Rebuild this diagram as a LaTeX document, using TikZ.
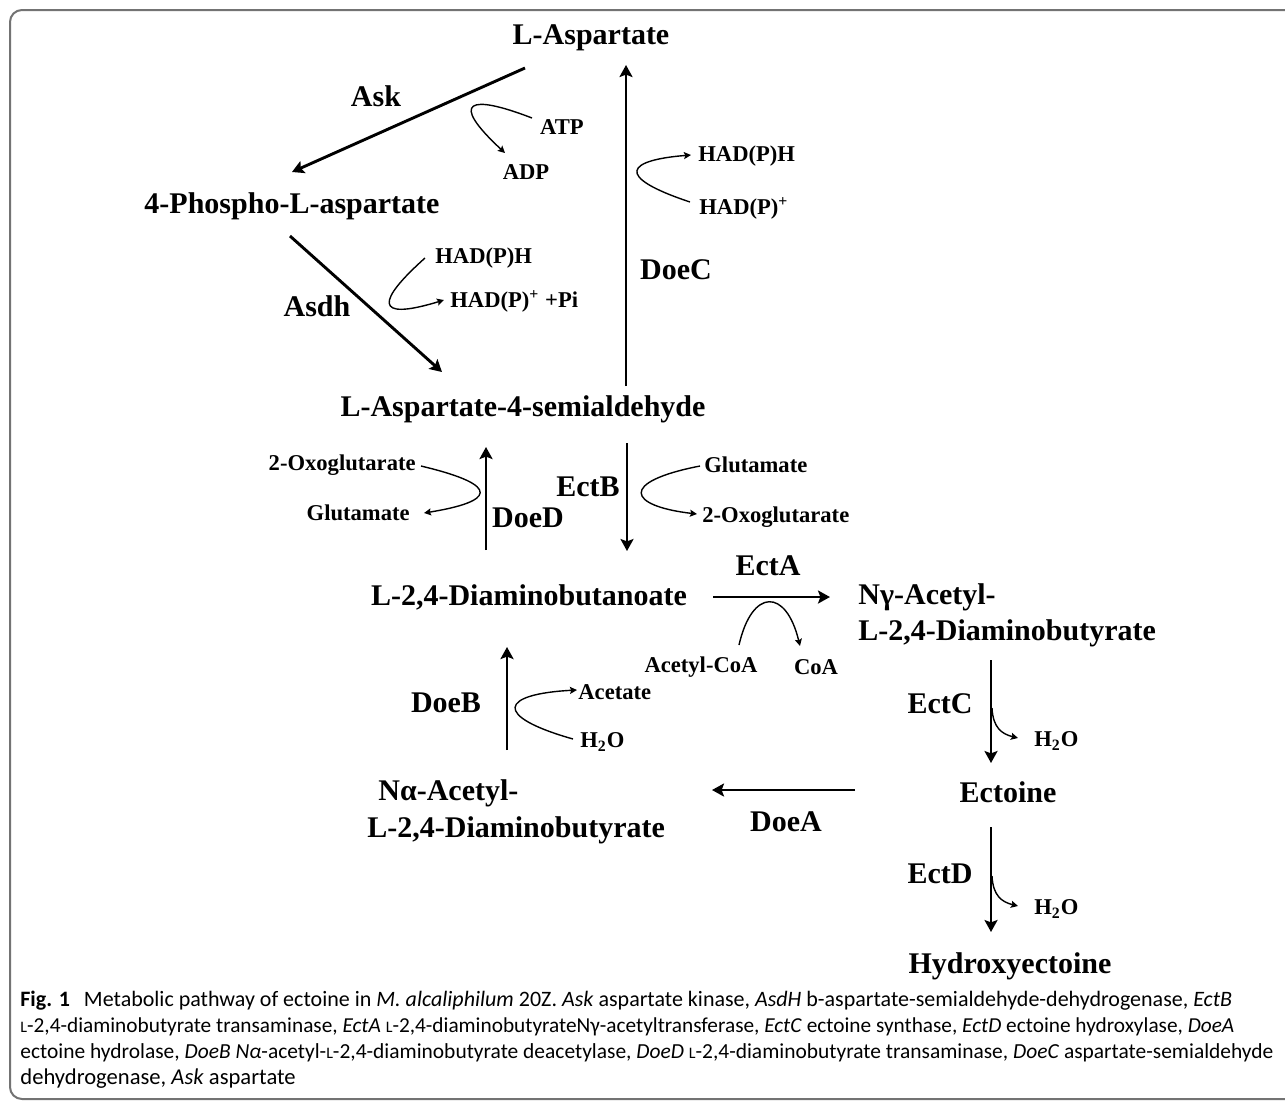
\documentclass[tikz,border=0pt]{standalone}
\usepackage{fontspec}
\setmainfont{Liberation Serif}
\newfontfamily\capfont{Carlito}
\usetikzlibrary{arrows.meta}
\newcommand{\lsc}{{\fontsize{8}{8}\selectfont L}}
\begin{document}
\begin{tikzpicture}[x=0.5pt,y=-0.5pt,
 met/.style={font=\fontsize{15}{17}\selectfont\bfseries, inner sep=0},
 enz/.style={font=\fontsize{15}{17}\selectfont\bfseries, inner sep=0},
 cof/.style={font=\fontsize{11.3}{13}\selectfont\bfseries, inner sep=0},
 mainarr/.style={line width=1.45pt, -{Stealth[length=6pt,width=6.5pt,inset=1.2pt]}},
 side/.style={line width=0.7pt, -{Stealth[length=3.5pt,width=3.5pt,inset=0.6pt]}},
 captext/.style={font=\capfont\fontsize{11}{13}\selectfont, anchor=base west, inner sep=0}
]
\useasboundingbox (0,0) rectangle (1285,1100);
\begin{scope}
\clip (0,0) rectangle (1285,1100);
\draw[line width=1pt, draw=black!55, rounded corners=6pt] (10,10) rectangle (1320,1099);
\end{scope}

% metabolites
\node[met] (asp) at (591,38) {L-Aspartate};
\node[met] (pasp) at (292,206) {4-Phospho-L-aspartate};
\node[met] (asa) at (523,409) {L-Aspartate-4-semialdehyde};
\node[met] (dab) at (529,597) {L-2,4-Diaminobutanoate};
\node[met, anchor=west] (nga1) at (858,597) {Nγ-Acetyl-};
\node[met, anchor=west] (nga2) at (858,633) {L-2,4-Diaminobutyrate};
\node[met] (ect) at (1008,792) {Ectoine};
\node[met] (hect) at (1010,966) {Hydroxyectoine};
\node[met, anchor=west] (naa1) at (378,793) {Nα-Acetyl-};
\node[met, anchor=west] (naa2) at (367,830) {L-2,4-Diaminobutyrate};

% enzymes
\node[enz] (ask) at (376,96) {Ask};
\node[enz] (asdh) at (317,306) {Asdh};
\node[enz] (doec) at (676,270) {DoeC};
\node[enz] (doed) at (528,518) {DoeD};
\node[enz] (ectb) at (588,487) {EctB};
\node[enz] (ecta) at (768,566) {EctA};
\node[enz] (ectc) at (940,704) {EctC};
\node[enz] (ectd) at (940,874) {EctD};
\node[enz] (doea) at (786,822) {DoeA};
\node[enz] (doeb) at (446,703) {DoeB};

% cofactors
\node[cof] (atp) at (562,127) {ATP};
\node[cof] (adp) at (526,172) {ADP};
\node[cof, anchor=west] (nadhA) at (698,156) {HAD(P)H};
\node[cof, anchor=west] (nadpA) at (699,208) {HAD(P)\textsuperscript{+}};
\node[cof, anchor=west] (nadhB) at (435,258) {HAD(P)H};
\node[cof, anchor=west] (nadpB) at (450,301) {HAD(P)\textsuperscript{+} +Pi};
\node[cof, anchor=east] (oxoA) at (416,465) {2-Oxoglutarate};
\node[cof, anchor=east] (gluA) at (410,513) {Glutamate};
\node[cof, anchor=west] (gluB) at (704,465) {Glutamate};
\node[cof, anchor=west] (oxoB) at (702,517) {2-Oxoglutarate};
\node[cof] (accoa) at (701,667) {Acetyl-CoA};
\node[cof] (coa) at (816,667) {CoA};
\node[cof, anchor=west] (acet) at (578,692) {Acetate};
\node[cof, anchor=west] (h2oA) at (580,742) {H\textsubscript{2}O};
\node[cof, anchor=west] (h2oB) at (1034,741) {H\textsubscript{2}O};
\node[cof, anchor=west] (h2oC) at (1034,909) {H\textsubscript{2}O};

% main arrow end points
\coordinate (askS) at (525,68);   \coordinate (askE) at (292,172);
\coordinate (asdhS) at (290,236); \coordinate (asdhE) at (442,372);
\coordinate (doecS) at (626,386); \coordinate (doecE) at (626,65);
\coordinate (doedS) at (486,550); \coordinate (doedE) at (486,447);
\coordinate (ectbS) at (627,443); \coordinate (ectbE) at (627,551);
\coordinate (ectaS) at (713,597); \coordinate (ectaE) at (830,597);
\coordinate (ectcS) at (991,660); \coordinate (ectcE) at (991,763);
\coordinate (ectdS) at (991,827); \coordinate (ectdE) at (991,932);
\coordinate (doeaS) at (855,790); \coordinate (doeaE) at (712,790);
\coordinate (doebS) at (507,750); \coordinate (doebE) at (507,647);

\draw[mainarr] (askS) -- (askE);
\draw[mainarr] (asdhS) -- (asdhE);
\draw[mainarr] (doecS) -- (doecE);
\draw[mainarr] (doedS) -- (doedE);
\draw[mainarr] (ectbS) -- (ectbE);
\draw[mainarr] (ectaS) -- (ectaE);
\draw[mainarr] (ectcS) -- (ectcE);
\draw[mainarr] (ectdS) -- (ectdE);
\draw[mainarr] (doeaS) -- (doeaE);
\draw[mainarr] (doebS) -- (doebE);

% side curves
\coordinate (c1s) at (532,118); \coordinate (c1e) at (505,153);
\draw[side] (c1s) .. controls (470,94) and (448,100) .. (c1e);
\coordinate (c2s) at (690,202); \coordinate (c2e) at (691,155);
\draw[side] (c2s) .. controls (612,176) and (628,160) .. (c2e);
\coordinate (c3s) at (425,258); \coordinate (c3e) at (444,300);
\draw[side] (c3s) .. controls (378,300) and (372,322) .. (c3e);
\coordinate (c4s) at (421,466); \coordinate (c4e) at (424,513);
\draw[side] (c4s) .. controls (505,486) and (492,502) .. (c4e);
\coordinate (c5s) at (700,466); \coordinate (c5e) at (697,514);
\draw[side] (c5s) .. controls (618,482) and (628,506) .. (c5e);
\coordinate (c6s) at (739,645); \coordinate (c6e) at (800,646);
\draw[side] (c6s) .. controls (752,588) and (786,588) .. (c6e);
\coordinate (c7s) at (573,739); \coordinate (c7e) at (577,690);
\draw[side] (c7s) .. controls (492,716) and (500,694) .. (c7e);
\coordinate (c8s) at (992,708); \coordinate (c8e) at (1018,738);
\draw[side] (c8s) .. controls (993,728) and (1002,734) .. (c8e);
\coordinate (c9s) at (992,876); \coordinate (c9e) at (1018,906);
\draw[side] (c9s) .. controls (993,896) and (1002,902) .. (c9e);

% caption
\node[captext] (cap1) at (20,1006) {{\bfseries Fig. 1}\hspace{7pt}Metabolic pathway of ectoine in \textit{M. alcaliphilum} 20Z. \textit{Ask} aspartate kinase, \textit{AsdH} b-aspartate-semialdehyde-dehydrogenase, \textit{EctB}};
\node[captext, font=\capfont\fontsize{10.65}{13}\selectfont] (cap2) at (20,1032) {\lsc-2,4-diaminobutyrate transaminase, \textit{EctA} \lsc-2,4-diaminobutyrateNγ-acetyltransferase, \textit{EctC} ectoine synthase, \textit{EctD} ectoine hydroxylase, \textit{DoeA}};
\node[captext, font=\capfont\fontsize{10.72}{13}\selectfont] (cap3) at (20,1058) {ectoine hydrolase, \textit{DoeB Nα}-acetyl-\lsc-2,4-diaminobutyrate deacetylase, \textit{DoeD} \lsc-2,4-diaminobutyrate transaminase, \textit{DoeC} aspartate-semialdehyde};
\node[captext, font=\capfont\fontsize{11.3}{13}\selectfont] (cap4) at (20,1084) {dehydrogenase, \textit{Ask} aspartate};
\end{tikzpicture}
\end{document}
